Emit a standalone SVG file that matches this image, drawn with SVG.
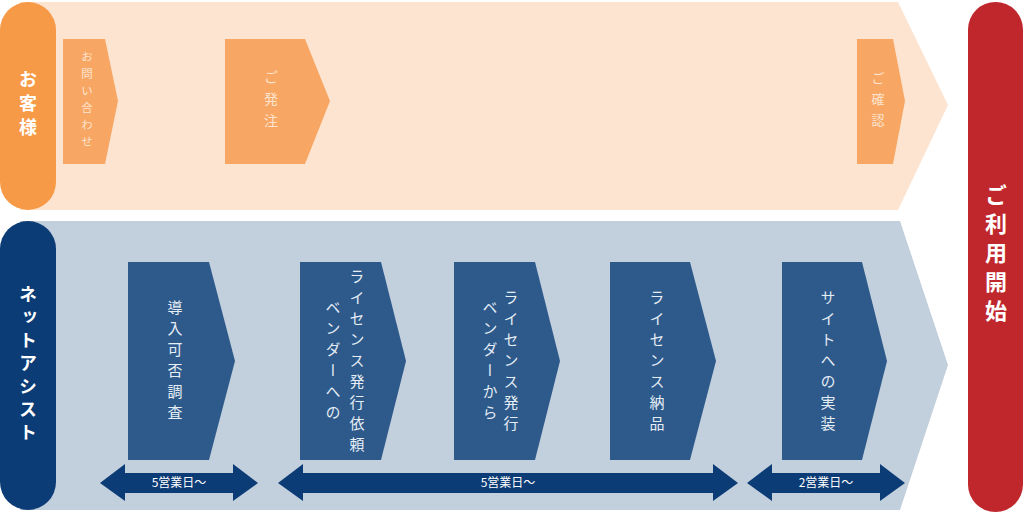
<svg xmlns="http://www.w3.org/2000/svg" width="1024" height="514" viewBox="0 0 1024 514">
<style>
.v{writing-mode:vertical-rl;font-family:"Noto Sans CJK JP","Noto Sans",sans-serif;text-anchor:middle}
.lbl{font-size:15px;fill:#e6edf5;letter-spacing:6px}
.olbl{fill:#fde4cf}
.hd{font-size:18px;font-weight:bold;fill:#ffffff;letter-spacing:6px}
.ob{fill:#f8a663}
.bb{fill:#2d5a8b}
.arr{fill:#0c3c76}
.at{font-family:"Noto Sans CJK JP","Noto Sans",sans-serif;font-size:12px;fill:#ffffff;text-anchor:middle}
</style>
<g id="band-customer">
<polygon points="20,2 898,2 948,105 898,210 20,210" fill="#fde4d1"/>
</g>
<g id="band-netassist">
<polygon points="20,221 900,221 948,365 900,510 20,510" fill="#c2cfdc"/>
</g>
<g id="pill-customer">
<rect x="0" y="2" width="56" height="208" rx="28" fill="#f79a47"/>
<text class="v hd" x="28" y="106">お客様</text>
</g>
<g id="pill-netassist">
<rect x="0" y="221" width="56" height="289" rx="28" fill="#0c3c76"/>
<text class="v hd" x="28" y="366" style="letter-spacing:5px">ネットアシスト</text>
</g>
<g id="pill-start">
<rect x="968" y="2" width="55" height="510" rx="27.5" fill="#c0272d"/>
<text class="v hd" x="996" y="256" style="font-size:22px;letter-spacing:7px">ご利用開始</text>
</g>
<g id="node-inquiry">
<polygon class="ob" points="63,39 105,39 118,101 105,164 63,164"/>
<text class="v olbl" x="87" y="102" style="font-size:11.5px;letter-spacing:5.5px">お問い合わせ</text>
</g>
<g id="node-order">
<polygon class="ob" points="225,39 305,39 330,101 305,164 225,164"/>
<text class="v olbl" x="271" y="103" style="font-size:14px;letter-spacing:8px">ご発注</text>
</g>
<g id="node-confirm">
<polygon class="ob" points="857,39 893,39 905,101 893,164 857,164"/>
<text class="v olbl" x="878" y="103" style="font-size:13px;letter-spacing:8px">ご確認</text>
</g>
<g id="node-survey">
<polygon class="bb" points="128,262 209,262 235,361 209,460 128,460"/>
<text class="v lbl" x="175" y="363">導入可否調査</text>
</g>
<g id="node-request">
<polygon class="bb" points="300,262 381,262 406,361 381,460 300,460"/>
<text class="v lbl" x="357" y="363">ライセンス発行依頼</text>
<text class="v lbl" x="333" y="363">ベンダーへの</text>
</g>
<g id="node-issue">
<polygon class="bb" points="454,262 535,262 560,361 535,460 454,460"/>
<text class="v lbl" x="511" y="363">ライセンス発行</text>
<text class="v lbl" x="490" y="363">ベンダーから</text>
</g>
<g id="node-deliver">
<polygon class="bb" points="610,262 690,262 716,361 690,460 610,460"/>
<text class="v lbl" x="657" y="363">ライセンス納品</text>
</g>
<g id="node-implement">
<polygon class="bb" points="782,262 862,262 887,361 862,460 782,460"/>
<text class="v lbl" x="828" y="363">サイトへの実装</text>
</g>
<g id="connectors">
<polygon class="arr" points="100,483 125,464 125,473 233,473 233,464 258,483 233,501 233,493 125,493 125,501"/>
<polygon class="arr" points="278,483 303,464 303,473 713,473 713,464 738,483 713,501 713,493 303,493 303,501"/>
<polygon class="arr" points="747,483 772,464 772,473 880,473 880,464 905,483 880,501 880,493 772,493 772,501"/>
<text class="at" x="179" y="487">5営業日〜</text>
<text class="at" x="508" y="487">5営業日〜</text>
<text class="at" x="826" y="487">2営業日〜</text>
</g>
</svg>
